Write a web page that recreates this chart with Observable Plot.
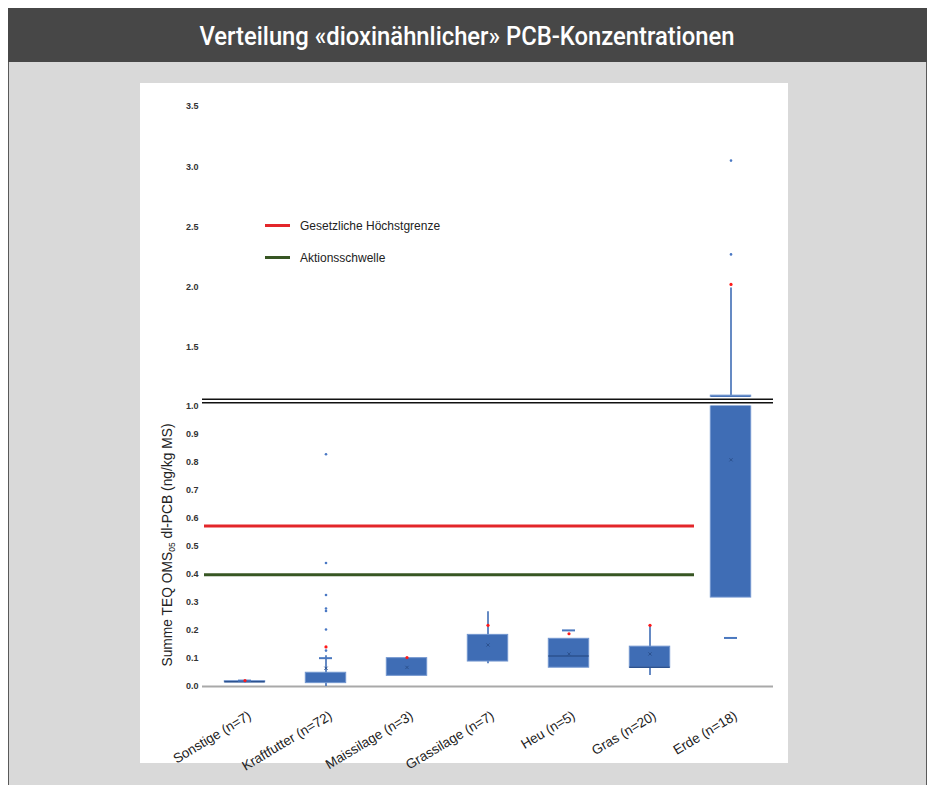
<!DOCTYPE html>
<html><head><meta charset="utf-8">
<script src="https://cdn.jsdelivr.net/npm/d3@7"></script>
<script src="https://cdn.jsdelivr.net/npm/@observablehq/plot@0.6"></script>
<style>
body{margin:0;background:#fff;font-family:"Liberation Sans",Arial,sans-serif;}
#bg{position:absolute;left:8px;top:8px;width:919px;height:777px;background:#d9d9d9;border-left:1px solid #5a5a5a;border-right:1px solid #5a5a5a;box-sizing:border-box;}
#title{position:absolute;left:8px;top:8px;}
#panel{position:absolute;left:140px;top:83px;width:648px;height:680px;background:#fff;}
#ylabel{position:absolute;left:33px;top:537px;width:270px;height:16px;line-height:16px;text-align:center;font-size:13.8px;color:#222;transform:rotate(-90deg);transform-origin:50% 50%;white-space:nowrap;}
#ylabel sub{font-size:8.5px;vertical-align:-3px;line-height:0;}
.leg{position:absolute;font-size:12px;color:#222;white-space:nowrap;}
.leg span{display:inline-block;width:25px;height:3px;vertical-align:middle;margin-right:10px;position:relative;top:-1px;}
</style></head>
<body>
<div id="bg"></div>
<svg id="title" width="919" height="54"><rect width="919" height="54" fill="#474747"/><text x="459" y="37" fill="#fff" font-family="Roboto" font-weight="500" font-size="25" text-anchor="middle" textLength="535" lengthAdjust="spacingAndGlyphs">Verteilung «dioxinähnlicher» PCB-Konzentrationen</text></svg>
<div id="panel"></div>
<div id="ylabel">Summe TEQ OMS<sub>05</sub> dl-PCB (ng/kg MS)</div>
<div class="leg" style="left:265px;top:219px;"><span style="background:#e3262a"></span>Gesetzliche Höchstgrenze</div>
<div class="leg" style="left:265px;top:251px;"><span style="background:#375623"></span>Aktionsschwelle</div>
<script>
const categories = ["Sonstige (n=7)","Kraftfutter (n=72)","Maissilage (n=3)","Grassilage (n=7)","Heu (n=5)","Gras (n=20)","Erde (n=18)"];
const q1 =          [0.015, 0.012, 0.038, 0.089, 0.067, 0.067, 0.317];
const q3 =          [0.019, 0.049, 0.101, 0.184, 0.170, 0.142, 1.095];
const medians =     [0.017, null,  null,  null,  0.109, 0.069, null];
const whiskerLow =  [0.013, 0.0,   null,  0.081, null,  0.039, null];
const whiskerHigh = [0.019, 0.110, null,  0.266, null,  0.218, 1.99];
const caps =        [0.021, 0.101, null,  null,  0.200, null,  0.173];
const redMarks =    [0.021, 0.141, 0.103, 0.218, 0.188, 0.218, 2.02];
const means =       [null,  0.065, 0.068, 0.148, 0.116, 0.116, 0.808];
const outlierCats = ["Kraftfutter (n=72)","Kraftfutter (n=72)","Kraftfutter (n=72)","Kraftfutter (n=72)","Kraftfutter (n=72)","Kraftfutter (n=72)","Kraftfutter (n=72)","Erde (n=18)","Erde (n=18)"];
const outlierVals = [0.828, 0.440, 0.326, 0.278, 0.269, 0.203, 0.128, 2.27, 3.05];
const legalLimit = 0.572;
const actionThreshold = 0.398;
const yTicks = [0,0.1,0.2,0.3,0.4,0.5,0.6,0.7,0.8,0.9,1.0,1.5,2.0,2.5,3.0,3.5];
const breakFrom = 1.0, breakTo = 1.08, yMax = 3.5;
const breakLines = [1.03, 1.064];

// broken-axis transform: lower segment 0–1, short gap, compressed upper segment
const lowerUnit = 280.5, gapSize = 8.5, upperUnit = 120.2;
function brokenAxis(v) {
  if (v <= breakFrom) return v * lowerUnit;
  if (v <= breakTo) return breakFrom * lowerUnit + (v - breakFrom) / (breakTo - breakFrom) * gapSize;
  return breakFrom * lowerUnit + gapSize + (v - breakTo) * upperUnit;
}
const tickPos = yTicks.map(brokenAxis);
const fmt = d3.format(".1f");
const tickLabel = (u) => { const i = tickPos.findIndex(p => Math.abs(p - u) < 1e-6); return i >= 0 ? fmt(yTicks[i]) : ""; };

const rows = (arr) => categories.map((c,i)=>({cat:c, v:arr[i]})).filter(d=>d.v!=null);
const boxes = categories.map((c,i)=>({cat:c, q1:q1[i], q3:q3[i]}));
const whiskers = categories.map((c,i)=>({cat:c, lo:whiskerLow[i]!=null?whiskerLow[i]:q3[i], hi:whiskerHigh[i]!=null?whiskerHigh[i]:q1[i], show: whiskerLow[i]!=null || whiskerHigh[i]!=null})).filter(d=>d.show);
const outliers = outlierCats.map((c,i)=>({cat:c, v:outlierVals[i]}));
const blue = "#3f6db5";

const chart = Plot.plot({
  width: 648, height: 680,
  marginLeft: 62, marginRight: 15, marginTop: 23, marginBottom: 77,
  style: {fontFamily: "Liberation Sans, Arial, sans-serif", background: "white", overflow: "visible"},
  x: {type: "band", domain: categories, padding: 0},
  y: {type: "linear", transform: brokenAxis, domain: [0, brokenAxis(yMax)]},
  marks: [
    Plot.ruleY([0], {stroke: "#a9a9a9", strokeWidth: 2}),
    Plot.ruleY([{y: legalLimit, a: categories[0], b: categories[5]}], {y: "y", x1: "a", x2: "b", stroke: "#e3262a", strokeWidth: 3, insetRight: -4}),
    Plot.ruleY([{y: actionThreshold, a: categories[0], b: categories[5]}], {y: "y", x1: "a", x2: "b", stroke: "#375623", strokeWidth: 3, insetRight: -4}),
    Plot.ruleX(whiskers, {x: "cat", y1: "lo", y2: "hi", stroke: blue, strokeWidth: 1.6}),
    Plot.barY(boxes, {x: "cat", y1: "q1", y2: "q3", fill: blue, stroke: "#7296cf", strokeWidth: 1, insetLeft: 20.3, insetRight: 20.3}),
    Plot.tickY(rows(medians), {x: "cat", y: "v", stroke: "#2c528f", strokeWidth: 1.5, insetLeft: 20.3, insetRight: 20.3}),
    Plot.tickY(rows(caps), {x: "cat", y: "v", stroke: "#4a78bf", strokeWidth: 2, insetLeft: 34, insetRight: 34}),
    Plot.dot(rows(means), {x: "cat", y: "v", symbol: "times", r: 1.6, stroke: "#2c528f", strokeWidth: 1}),
    Plot.dot(outliers, {x: "cat", y: "v", r: 1.3, fill: "#4a78c4"}),
    Plot.dot(rows(redMarks), {x: "cat", y: "v", r: 1.6, fill: "#ff1a1a"}),
    Plot.rect([{a: breakFrom, b: breakTo}], {y1: "a", y2: "b", fill: "white"}),
    Plot.ruleY(breakLines, {stroke: "#111", strokeWidth: 1.5}),
    Plot.axisY({ticks: tickPos, tickFormat: tickLabel, tickSize: 0, tickPadding: 4, fontSize: 9, fontWeight: "bold", fill: "#333", label: null}),
    Plot.axisX({tickSize: 0, tickRotate: -31, tickPadding: 28, dx: 5, fontSize: 13.5, fill: "#222", label: null})
  ]
});
document.getElementById("panel").appendChild(chart);
</script>
</body></html>
